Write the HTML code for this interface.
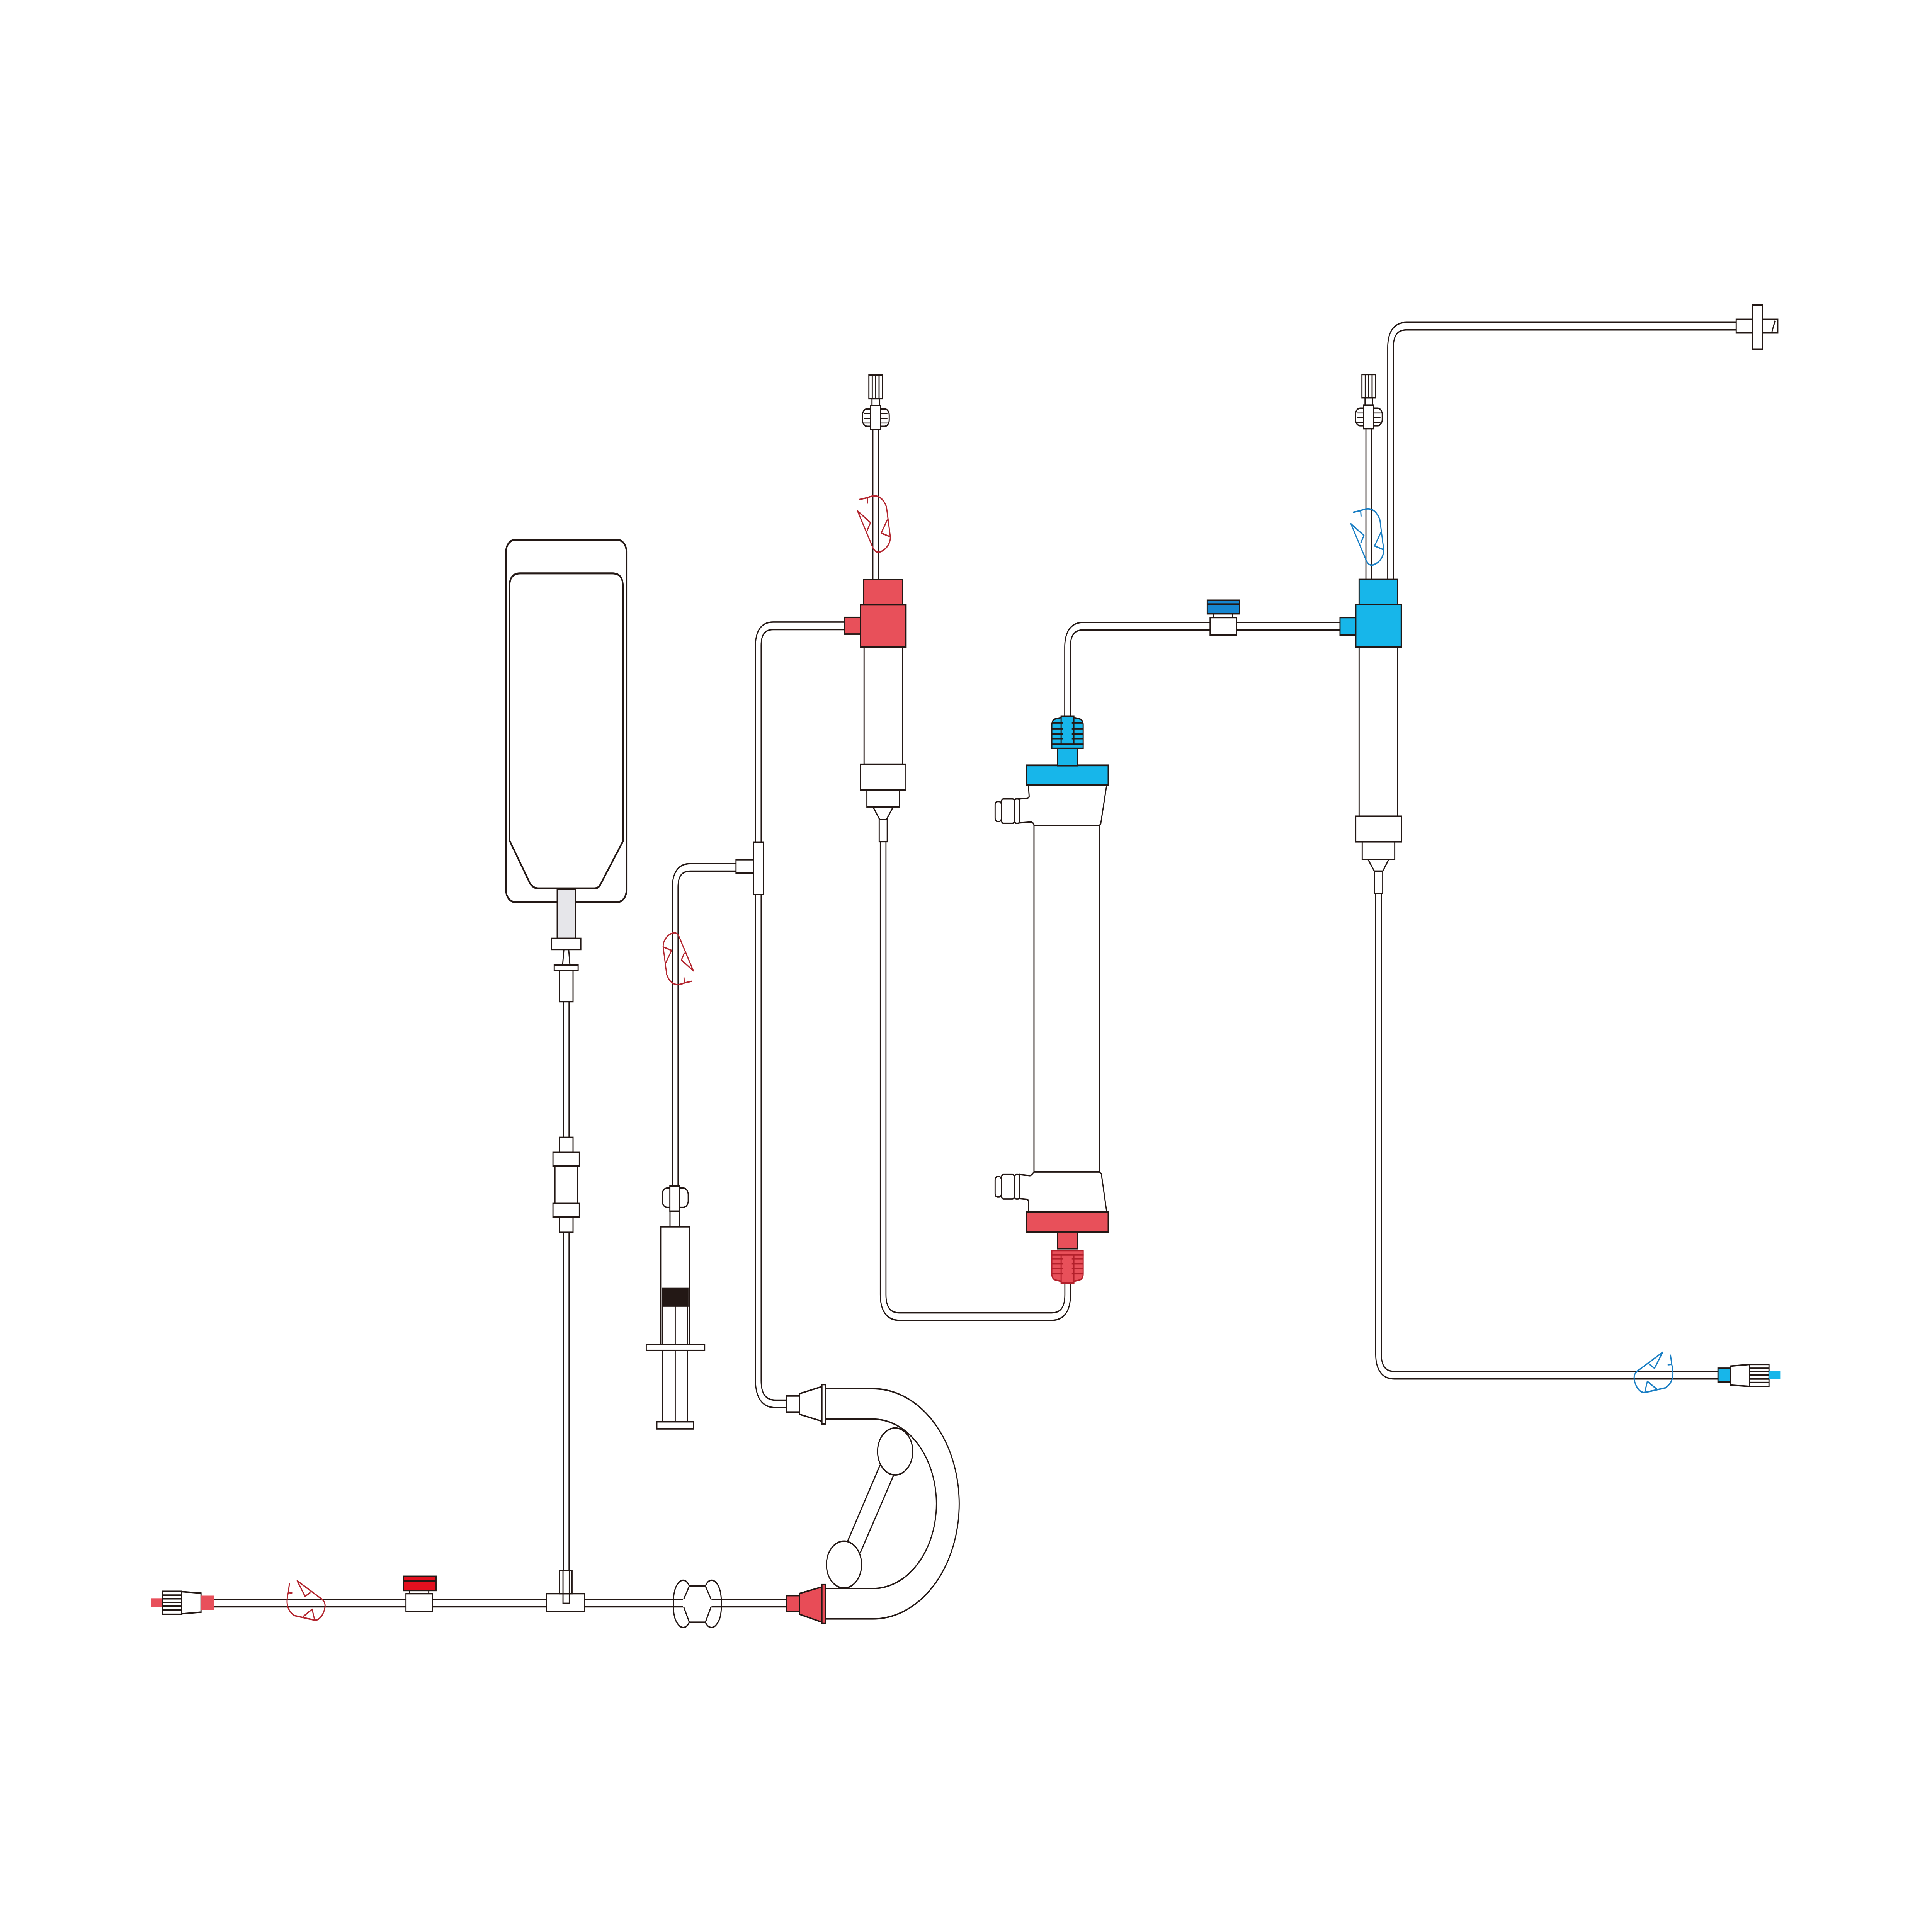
<!DOCTYPE html>
<html><head><meta charset="utf-8"><title>Circuit</title>
<style>
html,body{margin:0;padding:0;background:#fff;width:100%;height:100%;overflow:hidden;}
svg{display:block;width:100vw;height:100vh;}
</style></head>
<body>
<svg xmlns="http://www.w3.org/2000/svg" xmlns:xlink="http://www.w3.org/1999/xlink" viewBox="0 0 1560 1170" preserveAspectRatio="none">
<defs>
<path id="t1" d="M173.1,970.8 H636"/>
<path id="t2" d="M457.2,606 V966"/>
<path id="t3" d="M545.2,719 V537.5 Q545.2,525.3 557.4,525.3 H595"/>
<path id="t4" d="M612.3,511 V391 Q612.3,379 624.3,379 H682.5"/>
<path id="t5" d="M612.3,541 V836 Q612.3,850.2 626.5,850.2 H636"/>
<path id="t6" d="M707.1,259.5 V351.5"/>
<path id="t7" d="M713.1,509 V784 Q713.1,797.3 726.4,797.3 H849 Q862.1,797.3 862.1,784 V776"/>
<path id="t8" d="M862,434 V392 Q862,379.2 874.8,379.2 H1082.5"/>
<path id="t9" d="M1105.2,259.5 V351.5"/>
<path id="t10" d="M1122.8,351.5 V210.5 Q1122.8,197.5 1135.8,197.5 H1402.5"/>
<path id="t11" d="M1113.1,541 V820 Q1113.1,832.8 1126,832.8 H1387.7"/>
<path id="loop" fill="none" stroke-linejoin="round" d="M-11.7,-14.5 L-5.3,-15.6 L-5,-12 M-5.3,-15.6 C-1,-17 6,-18.5 10.2,-10 L13.3,8.1 L5.9,5.8 L11,-2.4 M13.3,8.1 C13.5,12 10,16 4.7,17.3 C2,17.8 0.5,16.5 -0.7,14.8 L-13.2,-7.6 L-2.7,-0.5 L-5.4,4.3"/>
<g id="capA" stroke="#231815" stroke-width="0.9" fill="#fff">
  <rect x="696.4" y="247.6" width="21.6" height="10.6" rx="3.8"/>
  <g stroke-width="0.6"><line x1="697.8" y1="250.5" x2="702.5" y2="250.5"/><line x1="697.8" y1="253.4" x2="702.5" y2="253.4"/><line x1="697.8" y1="256.2" x2="702.5" y2="256.2"/><line x1="711.5" y1="250.5" x2="716.6" y2="250.5"/><line x1="711.5" y1="253.4" x2="716.6" y2="253.4"/><line x1="711.5" y1="256.2" x2="716.6" y2="256.2"/></g>
  <rect x="702.9" y="245.7" width="8.2" height="14.3"/>
  <rect x="704.1" y="241.3" width="6.2" height="4.4"/>
  <rect x="701.6" y="227.2" width="10.9" height="14.1"/>
  <line x1="704.3" y1="227.2" x2="704.3" y2="241.3"/><line x1="707.05" y1="227.2" x2="707.05" y2="241.3"/><line x1="709.8" y1="227.2" x2="709.8" y2="241.3"/>
</g>
</defs>
<rect width="1560" height="1170" fill="#fff"/>

<!-- tubes -->
<g fill="none" stroke="#231815" stroke-width="5.4">
<use xlink:href="#t1"/><use xlink:href="#t2"/><use xlink:href="#t3"/><use xlink:href="#t4"/><use xlink:href="#t5"/><use xlink:href="#t6"/><use xlink:href="#t7"/><use xlink:href="#t8"/><use xlink:href="#t9"/><use xlink:href="#t10"/><use xlink:href="#t11"/>
</g>
<g fill="none" stroke="#fff" stroke-width="3.7">
<use xlink:href="#t1"/><use xlink:href="#t2"/><use xlink:href="#t3"/><use xlink:href="#t4"/><use xlink:href="#t5"/><use xlink:href="#t6"/><use xlink:href="#t7"/><use xlink:href="#t8"/><use xlink:href="#t9"/><use xlink:href="#t10"/><use xlink:href="#t11"/>
</g>

<!-- pump U segment -->
<path d="M666.5,850.2 L704.8,850.2 A60.5,60.5 0 0 1 704.8,971.2 L666.5,971.2" fill="none" stroke="#231815" stroke-width="19.3"/>
<path d="M666,850.2 L704.8,850.2 A60.5,60.5 0 0 1 704.8,971.2 L666,971.2" fill="none" stroke="#fff" stroke-width="17.5"/>

<g stroke="#231815" stroke-width="0.9" fill="#fff">
<!-- pump arm + rollers -->
<polygon points="710.6,887.2 721.5,893.5 694.5,940.6 684.5,933.2" stroke="none"/>
<line x1="710.6" y1="887.2" x2="684.5" y2="933.2"/>
<line x1="721.5" y1="893.5" x2="694.5" y2="940.6"/>
<circle cx="722.8" cy="879" r="14.2"/>
<circle cx="681.5" cy="947.5" r="14.2"/>

<!-- pump connectors -->
<rect x="635.2" y="845.4" width="10.4" height="9.7"/>
<polygon points="645.6,844 663.7,839.7 663.7,860.7 645.6,856.5"/>
<rect x="663.7" y="838.5" width="2.8" height="23.8"/>
<rect x="635.2" y="966.3" width="10.4" height="9.7" fill="#e84c57"/>
<polygon points="645.6,965 663.7,961 663.7,982.4 645.6,977.6" fill="#e84c57"/>
<rect x="663.7" y="959.6" width="2.8" height="23.6" fill="#e84c57"/>

<!-- hourglass -->
<rect x="551.5" y="961" width="23" height="21" stroke="none"/>
<path fill="none" d="M552.1,968.4 L556.6,960.5 C554.5,956.5 551,956.3 548.5,958 C544.5,961 543.7,966 543.7,971.3 C543.7,977 544.5,981.5 548.5,984.5 C551,986.3 554.5,986 556.6,982.4 L552.1,973.2"/>
<path fill="none" d="M574.1,968.4 L569.6,960.5 C571.7,956.5 575.2,956.3 577.7,958 C581.7,961 582.5,966 582.5,971.3 C582.5,977 581.7,981.5 577.7,984.5 C575.2,986.3 571.7,986 569.6,982.4 L574.1,973.2"/>
<line x1="556.6" y1="960.5" x2="569.6" y2="960.5"/>
<line x1="556.6" y1="982.4" x2="569.6" y2="982.4"/>

<!-- left red luer -->
<rect x="122.3" y="967.9" width="9.2" height="5.4" fill="#e8505b" stroke="none"/>
<rect x="131.3" y="963.7" width="15.5" height="13.9"/>
<line x1="131.3" y1="966" x2="146.8" y2="966"/><line x1="131.3" y1="968.2" x2="146.8" y2="968.2"/><line x1="131.3" y1="970.4" x2="146.8" y2="970.4"/><line x1="131.3" y1="972.6" x2="146.8" y2="972.6"/><line x1="131.3" y1="974.9" x2="146.8" y2="974.9"/>
<polygon points="146.8,963.9 162.3,964.8 162.3,976.3 146.8,977.3"/>
<rect x="162.3" y="966.3" width="10.8" height="8.7" fill="#e8505b" stroke="none"/>

<!-- red clamp -->
<rect x="327.8" y="965.1" width="21.5" height="10.9"/>
<line x1="330.6" y1="963.2" x2="330.6" y2="965.1"/><line x1="346.2" y1="963.2" x2="346.2" y2="965.1"/>
<rect x="325.9" y="954.6" width="26.2" height="8.6" fill="#e3101f"/>
<line x1="325.9" y1="957.3" x2="352.1" y2="957.3"/>

<!-- left T -->
<rect x="441.2" y="965.1" width="31" height="10.9"/>
<rect x="451.7" y="951" width="10.2" height="14.1"/>
<path fill="none" d="M454.6,951 V971 H459.7 V951"/>

<!-- bag -->
<rect x="408.6" y="327" width="97.2" height="219.2" rx="7" stroke-width="1.2"/>
<path fill="none" stroke-width="1.2" d="M411.4,509 L411.4,355 Q411.4,347.2 420,347.2 L494.5,347.2 Q503,347.2 503,355 L503,509.5 L485.1,535.2 Q483.5,538 480,538 L434.5,538 Q431,538 428.1,535.2 Z"/>
<rect x="449.9" y="538.6" width="14.8" height="29.7" fill="#e6e6ea"/>
<rect x="445.4" y="568.3" width="23.6" height="6.7"/>
<polygon points="455.3,575 459.2,575 460.2,584.4 454.3,584.4"/>
<rect x="447.5" y="584.4" width="19.3" height="3.4"/>
<rect x="451.8" y="587.8" width="10.9" height="18.8"/>
<rect x="451.8" y="688.8" width="10.9" height="9.1"/>
<rect x="446.5" y="697.9" width="21.3" height="8.1"/>
<rect x="448.1" y="706" width="18.3" height="22.8"/>
<rect x="446.5" y="728.8" width="21.3" height="8.1"/>
<rect x="451.8" y="736.9" width="10.9" height="9.4"/>

<!-- syringe -->
<rect x="534.7" y="719.5" width="21" height="11.7" rx="4"/>
<rect x="540.9" y="718.3" width="7.8" height="15.2"/>
<rect x="541" y="733.5" width="7.9" height="9.4"/>
<rect x="533.5" y="742.9" width="23.3" height="71.4"/>
<rect x="534.7" y="780.3" width="20.8" height="10.6" fill="#231815"/>
<line x1="535.2" y1="790.9" x2="535.2" y2="861"/>
<line x1="545.2" y1="790.9" x2="545.2" y2="861"/>
<line x1="555.2" y1="790.9" x2="555.2" y2="861"/>
<rect x="521.8" y="814.3" width="47.2" height="3.5"/>
<rect x="530.4" y="861" width="29.6" height="4.3"/>

<!-- syringe T -->
<rect x="594.3" y="520.6" width="14.1" height="8.2"/>
<rect x="608.4" y="510" width="8.2" height="31.7"/>

<!-- red chamber -->
<rect x="697.7" y="392" width="31.2" height="70.8"/>
<rect x="681.9" y="373.9" width="13" height="10.1" fill="#e8505a"/>
<rect x="697.2" y="351" width="31.7" height="15.2" fill="#e8505a"/>
<rect x="694.9" y="366.2" width="36.6" height="25.8" fill="#e8505a" stroke-width="1.1"/>
<rect x="694.9" y="462.8" width="36.6" height="15.7"/>
<rect x="700" y="478.5" width="26.4" height="10.1"/>
<polygon points="704.9,488.6 721.2,488.6 715.8,496.3 710.3,496.3"/>
<rect x="709.9" y="496.3" width="6.5" height="13.4"/>
</g>

<use xlink:href="#capA"/>
<use xlink:href="#capA" transform="translate(398.1,-0.4)"/>

<g stroke="#231815" stroke-width="0.9" fill="#fff">
<!-- blue chamber -->
<rect x="1097.4" y="392" width="31.2" height="102.3"/>
<rect x="1082" y="374" width="13" height="10.5" fill="#17b6ea"/>
<rect x="1097.4" y="350.9" width="31.2" height="15.2" fill="#17b6ea"/>
<rect x="1094.7" y="366.1" width="36.8" height="25.9" fill="#17b6ea" stroke-width="1.1"/>
<rect x="1094.7" y="494.3" width="36.8" height="15.5"/>
<rect x="1099.9" y="509.8" width="26.3" height="10.6"/>
<polygon points="1104.6,520.4 1121.4,520.4 1116.5,527.6 1109.7,527.6"/>
<rect x="1109.7" y="527.6" width="6.8" height="13.4"/>

<!-- blue clamp -->
<rect x="977.1" y="374" width="21.2" height="10.5"/>
<line x1="979.8" y1="371.7" x2="979.8" y2="374"/><line x1="995.4" y1="371.7" x2="995.4" y2="374"/>
<rect x="974.8" y="363.5" width="26.2" height="8.2" fill="#1686d0"/>
<line x1="974.8" y1="365.8" x2="1001" y2="365.8"/>

<!-- top right connector -->
<rect x="1401.9" y="193.4" width="13.4" height="8.2"/>
<rect x="1423.2" y="193.4" width="12.3" height="8.2"/>
<line x1="1433.3" y1="194.2" x2="1430.8" y2="200.8"/>
<rect x="1415.3" y="184.8" width="7.9" height="26.6"/>

<!-- bottom right blue luer -->
<rect x="1387.2" y="828.6" width="10.3" height="8.4" fill="#17b6ea"/>
<polygon points="1397.5,827.3 1412.7,826.3 1412.7,839.6 1397.5,838.8"/>
<rect x="1412.7" y="826.3" width="15.7" height="13.3"/>
<line x1="1412.7" y1="828.6" x2="1428.4" y2="828.6"/><line x1="1412.7" y1="830.7" x2="1428.4" y2="830.7"/><line x1="1412.7" y1="832.8" x2="1428.4" y2="832.8"/><line x1="1412.7" y1="835.1" x2="1428.4" y2="835.1"/><line x1="1412.7" y1="837.2" x2="1428.4" y2="837.2"/>
<rect x="1428.4" y="830.4" width="9.1" height="4.9" fill="#17b6ea" stroke="none"/>

<!-- filter body -->
<rect x="834.9" y="499.8" width="52.6" height="209.9"/>
<path d="M830.4,475.4 L831,482.3 Q830.7,483.3 829,483.4 L823.4,483.8 L823.4,498.3 L832.6,497.8 Q834.9,498.4 834.9,499.8 L887.5,499.8 Q888.9,499.5 888.9,498.3 L893.6,475.4 Z"/>
<rect x="819.2" y="483.8" width="4.2" height="14.8" rx="1.5"/>
<rect x="808.6" y="483.8" width="10.6" height="14.8" rx="1.8"/>
<rect x="803.5" y="485.4" width="5.1" height="12.1" rx="2"/>
<path d="M834.9,709.7 L887.5,709.7 L889.3,710.9 L893.6,733.9 L830.4,733.9 L830.4,728 Q830.4,726.4 829,726.3 L823.4,725.9 L823.4,711.3 L831.6,712 Q833.2,711.6 834.9,709.7 Z"/>
<rect x="819.2" y="711.3" width="4.2" height="14.8" rx="1.5"/>
<rect x="808.6" y="711.3" width="10.6" height="14.8" rx="1.8"/>
<rect x="803.5" y="712.5" width="5.1" height="12.4" rx="2"/>

<!-- filter blue top -->
<rect x="829" y="463.5" width="65.9" height="11.9" fill="#17b6ea" stroke-width="1.1"/>
<rect x="853.8" y="453.2" width="16.2" height="10.5" fill="#17b6ea"/>
<rect x="849.3" y="450.7" width="25.3" height="2.5" fill="#17b6ea"/>
<path fill="#17b6ea" d="M849.3,450.7 V439 Q849.3,435.8 853,435.2 L856.8,434.6 V433.7 H867.1 V434.6 L870.9,435.2 Q874.6,435.8 874.6,439 V450.7 Z"/>
<line x1="856.8" y1="433.7" x2="856.8" y2="450.7"/><line x1="867.1" y1="433.7" x2="867.1" y2="450.7"/>
<line x1="849.3" y1="437.8" x2="858.5" y2="437.8"/><line x1="849.3" y1="441.3" x2="858.5" y2="441.3"/><line x1="849.3" y1="444.4" x2="858.5" y2="444.4"/><line x1="849.3" y1="447.3" x2="858.5" y2="447.3"/>
<line x1="865.4" y1="437.8" x2="874.6" y2="437.8"/><line x1="865.4" y1="441.3" x2="874.6" y2="441.3"/><line x1="865.4" y1="444.4" x2="874.6" y2="444.4"/><line x1="865.4" y1="447.3" x2="874.6" y2="447.3"/>

<!-- filter red bottom -->
<rect x="829" y="733.9" width="65.9" height="12.1" fill="#e8505a" stroke-width="1.1"/>
<rect x="853.8" y="746" width="16.2" height="10.2" fill="#e8505a"/>
<g stroke="#b3202b">
<rect x="849.3" y="757.3" width="25.3" height="2.7" fill="#e8505a"/>
<path fill="#e8505a" d="M849.3,760 V771.5 Q849.3,774.7 853,775.3 L856.8,775.9 V777 H867.1 V775.9 L870.9,775.3 Q874.6,774.7 874.6,771.5 V760 Z"/>
<line x1="856.8" y1="760" x2="856.8" y2="777"/><line x1="867.1" y1="760" x2="867.1" y2="777"/>
<line x1="849.3" y1="762.3" x2="858.5" y2="762.3"/><line x1="849.3" y1="765.3" x2="858.5" y2="765.3"/><line x1="849.3" y1="768.2" x2="858.5" y2="768.2"/><line x1="849.3" y1="771.3" x2="858.5" y2="771.3"/>
<line x1="865.4" y1="762.3" x2="874.6" y2="762.3"/><line x1="865.4" y1="765.3" x2="874.6" y2="765.3"/><line x1="865.4" y1="768.2" x2="874.6" y2="768.2"/><line x1="865.4" y1="771.3" x2="874.6" y2="771.3"/>
</g>
</g>

<!-- loop symbols -->
<use xlink:href="#loop" stroke="#b3262f" stroke-width="0.9" transform="translate(705.6,317)"/>
<use xlink:href="#loop" stroke="#1b7fc4" stroke-width="0.9" transform="translate(1104,324.8)"/>
<use xlink:href="#loop" stroke="#b3262f" stroke-width="0.95" transform="translate(547.7,580.9) rotate(180) scale(0.92)"/>
<use xlink:href="#loop" stroke="#b3262f" stroke-width="1" transform="translate(246.8,969.2) scale(-0.9,0.9) rotate(90)"/>
<use xlink:href="#loop" stroke="#1b7fc4" stroke-width="1" transform="translate(1335.5,831.1) rotate(90) scale(0.92)"/>
</svg>
</body></html>
